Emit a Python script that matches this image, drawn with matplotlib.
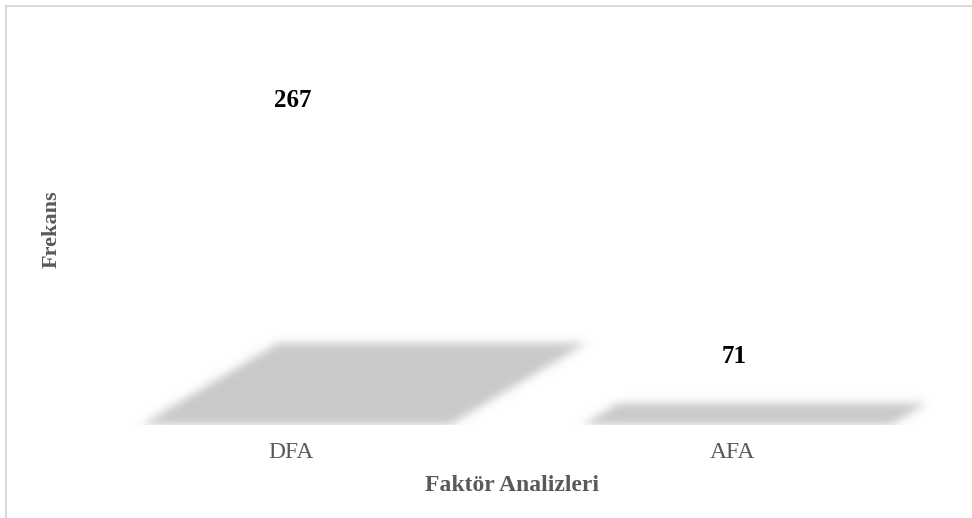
import numpy as np
import matplotlib
matplotlib.use("Agg")
import matplotlib.pyplot as plt
from matplotlib.patches import Polygon, Rectangle
from matplotlib.lines import Line2D

categories = ["DFA", "AFA"]
values = [267, 71]

plt.rcParams['font.family'] = ['Liberation Serif', 'DejaVu Serif']


class Blur:
    # gaussian blur of the alpha channel, used as agg_filter
    def __init__(self, sigma, color):
        self.sigma = sigma
        self.color = matplotlib.colors.to_rgb(color)

    def __call__(self, im, dpi):
        s = self.sigma * dpi / 100.0
        pad = int(3 * s) + 1
        a = np.pad(im[:, :, 3], pad)
        k = np.exp(-0.5 * (np.arange(-pad, pad + 1) / s) ** 2)
        k /= k.sum()
        a = np.apply_along_axis(lambda r: np.convolve(r, k, mode="same"), 0, a)
        a = np.apply_along_axis(lambda r: np.convolve(r, k, mode="same"), 1, a)
        out = np.zeros(a.shape + (4,))
        out[:, :, :3] = self.color
        out[:, :, 3] = a
        return out, -pad, -pad


fig = plt.figure(figsize=(9.72, 5.18), dpi=100)
ax = fig.add_axes([0.0725, 0.1795, 0.9074, 0.7819])
ax.set_xlim(-0.5, 1.5)
ax.set_ylim(0, 309)

# shadow of each (white) 3d bar, cast on the floor
px_per_x = 882 / 2.0
px_per_y = 405 / 309.0
depth = 0.2345      # shadow height relative to the bar value
skew = 1.67         # horizontal px per vertical px of shadow
half = 0.35
for i, v in enumerate(values):
    h = depth * v
    dx = skew * h * px_per_y / px_per_x
    c = i + 0.01
    poly = Polygon([(c - half, 0), (c + half, 0), (c + half + dx, h), (c - half + dx, h)],
                   closed=True, facecolor="#C9C9C9", edgecolor="none", zorder=1)
    poly.set_agg_filter(Blur(4.5, "#C9C9C9"))
    ax.add_patch(poly)
    ax.annotate(str(v), (i, v), xytext=(2, -25), textcoords="offset pixels",
                ha="center", va="center", fontsize=18, fontweight="bold", color="black")

# hide the blur under the floor line
ax.add_patch(Rectangle((0, -0.3), 1, 0.3, transform=ax.transAxes, facecolor="white",
                       edgecolor="none", clip_on=False, zorder=1.2))

ax.set_xticks(range(len(categories)))
ax.set_xticklabels(categories, fontsize=17, color="#595959")
ax.tick_params(axis="x", length=0, pad=12)
ax.set_yticks([])
for sp in ax.spines.values():
    sp.set_visible(False)

fig.text(512 / 972, 1 - 491 / 518, "Faktör Analizleri", ha="center", va="baseline",
         fontsize=17, fontweight="bold", color="#595959")
fig.text(52 / 972, 1 - 229 / 518, "Frekans", ha="center", va="center", rotation=90,
         fontsize=16, fontweight="bold", color="#595959")

# chart border
fig.add_artist(Line2D([6 / 972, 6 / 972], [0, 1 - 5.5 / 518], transform=fig.transFigure,
                      color="#D9D9D9", lw=1.5))
fig.add_artist(Line2D([6 / 972, 1], [1 - 5.5 / 518, 1 - 5.5 / 518], transform=fig.transFigure,
                      color="#D9D9D9", lw=1.5))

fig.savefig("out.png", dpi=100)
